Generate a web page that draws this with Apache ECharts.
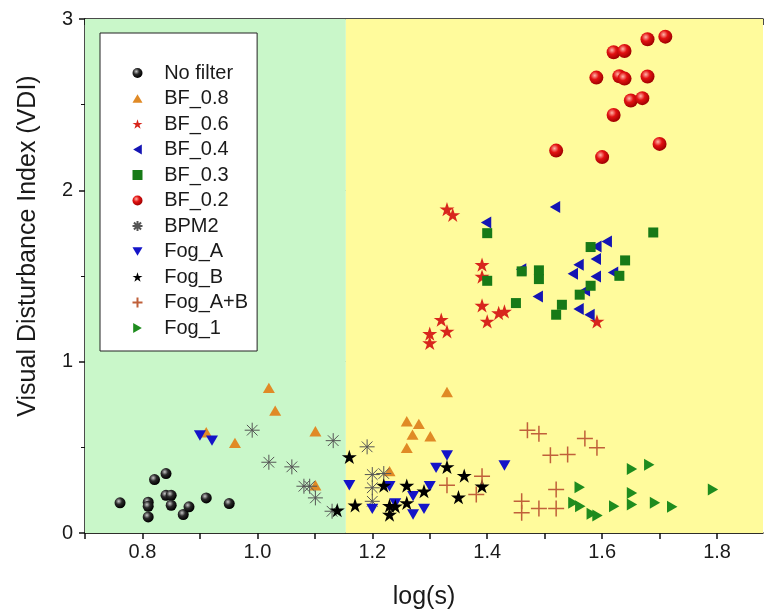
<!DOCTYPE html>
<html>
<head>
<meta charset="utf-8">
<script src="https://cdn.jsdelivr.net/npm/echarts@6/dist/echarts.min.js"></script>
<style>
  html, body { margin: 0; padding: 0; background: #fff; }
  #main { width: 765px; height: 615px; }
</style>
</head>
<body>
<div id="main"></div>
<script>
// 数据：每组 [log(s), VDI]
let noFilter = [[0.761,0.176],[0.810,0.180],[0.810,0.156],[0.810,0.094],[0.821,0.312],[0.841,0.347],[0.841,0.220],
    [0.850,0.220],[0.850,0.162],[0.871,0.108],[0.881,0.153],[0.911,0.205],[0.951,0.172]];
let bf08 = [[1.020,0.847],[1.031,0.714],[0.911,0.588],[0.961,0.526],[1.101,0.594],[1.101,0.279],[1.330,0.823],
    [1.260,0.652],[1.281,0.637],[1.270,0.574],[1.301,0.565],[1.260,0.497],[1.230,0.361]];
let bf06 = [[1.330,1.890],[1.340,1.857],[1.391,1.566],[1.391,1.497],[1.391,1.328],[1.400,1.235],[1.420,1.284],
    [1.430,1.293],[1.320,1.245],[1.330,1.177],[1.300,1.163],[1.300,1.109],[1.591,1.235]];
let bf04 = [[1.518,1.902],[1.398,1.812],[1.608,1.702],[1.590,1.672],[1.589,1.599],[1.559,1.566],[1.549,1.513],
    [1.589,1.497],[1.619,1.521],[1.459,1.540],[1.570,1.416],[1.488,1.381],[1.559,1.307],[1.578,1.274]];
let bf03 = [[1.400,1.750],[1.689,1.754],[1.580,1.669],[1.640,1.591],[1.630,1.501],[1.490,1.533],[1.490,1.482],
    [1.460,1.527],[1.400,1.472],[1.580,1.443],[1.561,1.391],[1.450,1.342],[1.530,1.332],[1.520,1.274]];
let bf02 = [[1.679,2.882],[1.710,2.897],[1.620,2.806],[1.639,2.813],[1.590,2.658],[1.630,2.666],[1.639,2.652],
    [1.679,2.664],[1.650,2.524],[1.670,2.538],[1.620,2.440],[1.700,2.271],[1.520,2.232],[1.600,2.194]];
let bpm2 = [[0.991,0.600],[1.020,0.413],[1.060,0.386],[1.081,0.273],[1.091,0.273],[1.101,0.205],[1.132,0.539],
    [1.130,0.127],[1.191,0.503],[1.200,0.341],[1.220,0.347],[1.200,0.264],[1.200,0.185]];
let fogA = [[0.900,0.569],[0.921,0.539],[1.160,0.279],[1.200,0.141],[1.230,0.273],[1.271,0.215],[1.271,0.108],
    [1.290,0.141],[1.300,0.273],[1.311,0.380],[1.330,0.452],[1.430,0.394],[1.240,0.172]];
let fogB = [[1.160,0.444],[1.170,0.162],[1.139,0.133],[1.220,0.277],[1.260,0.277],[1.230,0.160],[1.230,0.108],
    [1.240,0.156],[1.260,0.176],[1.290,0.244],[1.330,0.386],[1.360,0.335],[1.350,0.209],[1.391,0.273]];
let fogAB = [[1.470,0.600],[1.490,0.580],[1.570,0.551],[1.591,0.497],[1.510,0.454],[1.540,0.458],[1.391,0.331],
    [1.330,0.279],[1.381,0.224],[1.520,0.254],[1.460,0.185],[1.460,0.118],[1.490,0.143],[1.520,0.143]];
let fog1 = [[1.652,0.374],[1.682,0.399],[1.561,0.267],[1.652,0.234],[1.793,0.254],[1.550,0.176],[1.562,0.156],
    [1.582,0.112],[1.592,0.102],[1.621,0.156],[1.652,0.166],[1.692,0.176],[1.722,0.153]];

let seriesNames = ['No filter','BF_0.8','BF_0.6','BF_0.4','BF_0.3','BF_0.2','BPM2','Fog_A','Fog_B','Fog_A+B','Fog_1'];
let xRange = [0.7, 1.88];
let eyeBorder = 1.154;

// 符号路径
let starPath = 'path://M0,-1L0.225,-0.309L0.951,-0.309L0.363,0.118L0.588,0.809L0,0.382L-0.588,0.809L-0.363,0.118L-0.951,-0.309L-0.225,-0.309Z';
let asteriskPath = 'path://M0,-1L0,1M-1,0L1,0M-0.71,-0.71L0.71,0.71M-0.71,0.71L0.71,-0.71';
let plusPath = 'path://M0,-1L0,1M-1,0L1,0';
let triUp = 'path://M0.5,0L1,0.866L0,0.866Z';
let triDown = 'path://M0,0L1,0L0.5,0.866Z';
let triLeft = 'path://M0,0.5L0.866,0L0.866,1Z';
let triRight = 'path://M0,0L0.866,0.5L0,1Z';
let square = 'path://M0,0L1,0L1,1L0,1Z';

let sphere = (light, mid, dark) => ({
    type: 'radial', x: 0.38, y: 0.35, r: 0.65,
    colorStops: [{offset: 0, color: light}, {offset: 0.45, color: mid}, {offset: 1, color: dark}]
});

let mkSeries = (name, data, symbol, size, style) => ({
    name: name,
    type: 'scatter',
    data: data,
    symbol: symbol,
    symbolSize: size,
    symbolKeepAspect: true,
    itemStyle: Object.assign({opacity: 1}, style),
    emphasis: {disabled: true},
    z: 3
});

let myChart = echarts.init(document.getElementById('main'));
let fontFam = 'Liberation Sans, Arial, sans-serif';

let option = {
    animation: false,
    textStyle: {fontFamily: fontFam},
    grid: {left: 85, top: 19, right: 2, bottom: 81.5},
    legend: {
        orient: 'vertical',
        left: 100,
        top: 33,
        data: seriesNames,
        itemWidth: 10,
        itemHeight: 10,
        itemGap: 5.5,
        padding: [30, 9, 13, 30],
        backgroundColor: '#fff',
        borderColor: '#222',
        borderWidth: 1,
        formatter: function (n) { return '   ' + n; },
        textStyle: {fontSize: 20, lineHeight: 20, color: '#1a1a1a', fontFamily: fontFam}
    },
    xAxis: [{
        type: 'value',
        min: xRange[0],
        max: xRange[1],
        interval: 0.1,
        name: 'log(s)',
        nameLocation: 'middle',
        nameGap: 52,
        nameTextStyle: {fontSize: 25, color: '#1a1a1a'},
        axisLine: {show: true, onZero: false, lineStyle: {color: '#111', width: 1.5}},
        axisTick: {show: true, length: 6, lineStyle: {color: '#111', width: 1.5}},
        axisLabel: {
            fontSize: 20, color: '#1a1a1a', margin: 9,
            showMaxLabel: false,
            formatter: function (v) {
                let k = Math.round(v * 10);
                return k % 2 === 0 ? (k / 10).toFixed(1) : '';
            }
        },
        splitLine: {show: false}
    }, {
        type: 'value',
        position: 'top',
        min: xRange[0],
        max: xRange[1],
        interval: 0.1,
        axisLine: {show: true, onZero: false, lineStyle: {color: '#111', width: 1.5}},
        axisTick: {show: true, inside: true, length: 6, lineStyle: {color: '#111', width: 1.5}},
        axisLabel: {show: false},
        splitLine: {show: false}
    }],
    yAxis: {
        type: 'value',
        min: 0,
        max: 3,
        interval: 1,
        axisLine: {show: true, onZero: false, lineStyle: {color: '#111', width: 1.5}},
        axisTick: {show: true, length: 6, lineStyle: {color: '#111', width: 1.5}},
        minorTick: {show: true, splitNumber: 2, length: 4, lineStyle: {color: '#111', width: 1}},
        axisLabel: {fontSize: 20, color: '#1a1a1a', margin: 12},
        splitLine: {show: true, lineStyle: {color: '#8a8a7a', width: 1}},
        minorSplitLine: {show: true, lineStyle: {color: '#bdbdb0', width: 1, type: [5, 4]}}
    },
    graphic: [
        {type: 'text', x: 28, y: 246, rotation: Math.PI / 2,
            style: {text: 'Visual Disturbance Index (VDI)', font: '25px ' + fontFam, fill: '#1a1a1a', align: 'center', verticalAlign: 'middle'}},
        {type: 'text', left: 266, top: 125, style: {text: 'Normal\n  eye', font: '20px ' + fontFam, fill: '#1a1a1a', lineHeight: 26}},
        {type: 'text', left: 388, top: 125, style: {text: 'Cataractous\n      eye', font: '20px ' + fontFam, fill: '#1a1a1a', lineHeight: 26}}
    ],
    series: [
        {
            name: 'bg',
            type: 'scatter',
            data: [],
            z: -1,
            silent: true,
            markArea: {
                silent: true,
                data: [
                    [{xAxis: xRange[0], itemStyle: {color: '#c9f7c9', opacity: 1}}, {xAxis: eyeBorder}],
                    [{xAxis: eyeBorder, itemStyle: {color: '#fffb9c', opacity: 1}}, {xAxis: xRange[1]}]
                ]
            }
        },
        mkSeries('No filter', noFilter, 'circle', 11, {color: sphere('#c8c8c8', '#2a2a2a', '#000')}),
        mkSeries('BF_0.8', bf08, triUp, 12, {color: '#e08a26'}),
        mkSeries('BF_0.6', bf06, starPath, 15, {color: '#d8261c'}),
        mkSeries('BF_0.4', bf04, triLeft, 12, {color: '#1414b4'}),
        mkSeries('BF_0.3', bf03, square, 10, {color: '#177a17'}),
        mkSeries('BF_0.2', bf02, 'circle', 14, {color: sphere('#ffb4a8', '#e31212', '#a00000')}),
        mkSeries('BPM2', bpm2, asteriskPath, 15, {color: 'none', borderColor: '#555', borderWidth: 1}),
        mkSeries('Fog_A', fogA, triDown, 12, {color: '#1414c8'}),
        mkSeries('Fog_B', fogB, starPath, 15, {color: '#000'}),
        mkSeries('Fog_A+B', fogAB, plusPath, 16, {color: 'none', borderColor: '#c0603a', borderWidth: 1.5}),
        mkSeries('Fog_1', fog1, triRight, 12, {color: '#1e8c1e'})
    ]
};
myChart.setOption(option);
</script>
</body>
</html>
